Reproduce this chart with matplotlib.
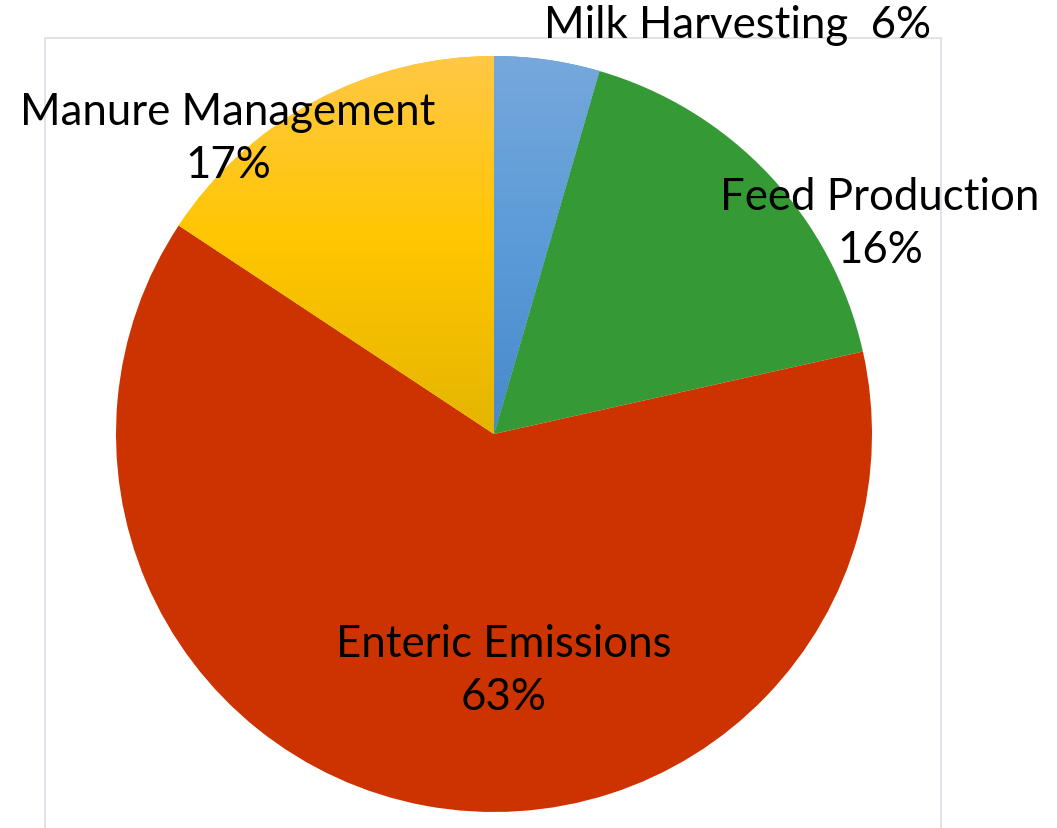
import matplotlib
matplotlib.use('Agg')
import matplotlib.pyplot as plt
from matplotlib.colors import LinearSegmentedColormap
from matplotlib.patches import Rectangle
import numpy as np

# slice sizes as drawn (clockwise from 12 o'clock), and the label texts shown
categories = ["Milk Harvesting", "Feed Production", "Enteric Emissions", "Manure Management"]
shares = [4.5, 17.0, 62.8, 15.7]
pct_labels = ["6%", "16%", "63%", "17%"]

colors = ["#5C9BD9", "#359A35", "#CC3300", "#FFC600"]
# vertical gradients (top -> bottom) for the two shaded slices
gradients = {0: ["#76A8DC", "#5B9BD8", "#4889CB"],
             3: ["#FFC845", "#FFC600", "#E4B500"]}

plt.rcParams['font.family'] = ['Lato', 'DejaVu Sans']

W, H = 1057, 829
fig = plt.figure(figsize=(W / 100, H / 100), dpi=100)

# light frame of the chart area (behind everything)
fig.patches.append(Rectangle((45 / W, -0.05), (941 - 45) / W, (829 - 39) / H + 0.05,
                             transform=fig.transFigure, fill=False, zorder=-5,
                             edgecolor="#D9DEE6", linewidth=1.2))

cx, cy, r = 494, 435, 378
ax = fig.add_axes([(cx - r) / W, (H - cy - r) / H, 2 * r / W, 2 * r / H])
ax.patch.set_visible(False)
wedges, _ = ax.pie(shares, colors=colors, startangle=90, counterclock=False,
                   radius=1, wedgeprops=dict(linewidth=0))
ax.axis('off')

for i, cols in gradients.items():
    cmap = LinearSegmentedColormap.from_list("g%d" % i, cols)
    grad = np.linspace(0, 1, 256).reshape(-1, 1)
    im = ax.imshow(grad, cmap=cmap, extent=[-1, 1, 0, 1], origin='upper',
                   aspect='auto', zorder=wedges[i].get_zorder() + 0.1)
    im.set_clip_path(wedges[i])
ax.set_xlim(-1, 1)
ax.set_ylim(-1, 1)

def px(x, y):
    return ((x - cx) / r, (cy - y) / r)

fs = 31.5
ax.text(*px(737, 26), categories[0] + "  " + pct_labels[0], ha='center', va='center',
        fontsize=fs, clip_on=False)
label_pos = [None, (880, 224), (504, 671), (228, 139)]
for i in (1, 2, 3):
    ax.text(*px(*label_pos[i]), categories[i] + "\n" + pct_labels[i], ha='center',
            va='center', fontsize=fs, linespacing=1.38, clip_on=False)

fig.savefig("out.png", dpi=100)
